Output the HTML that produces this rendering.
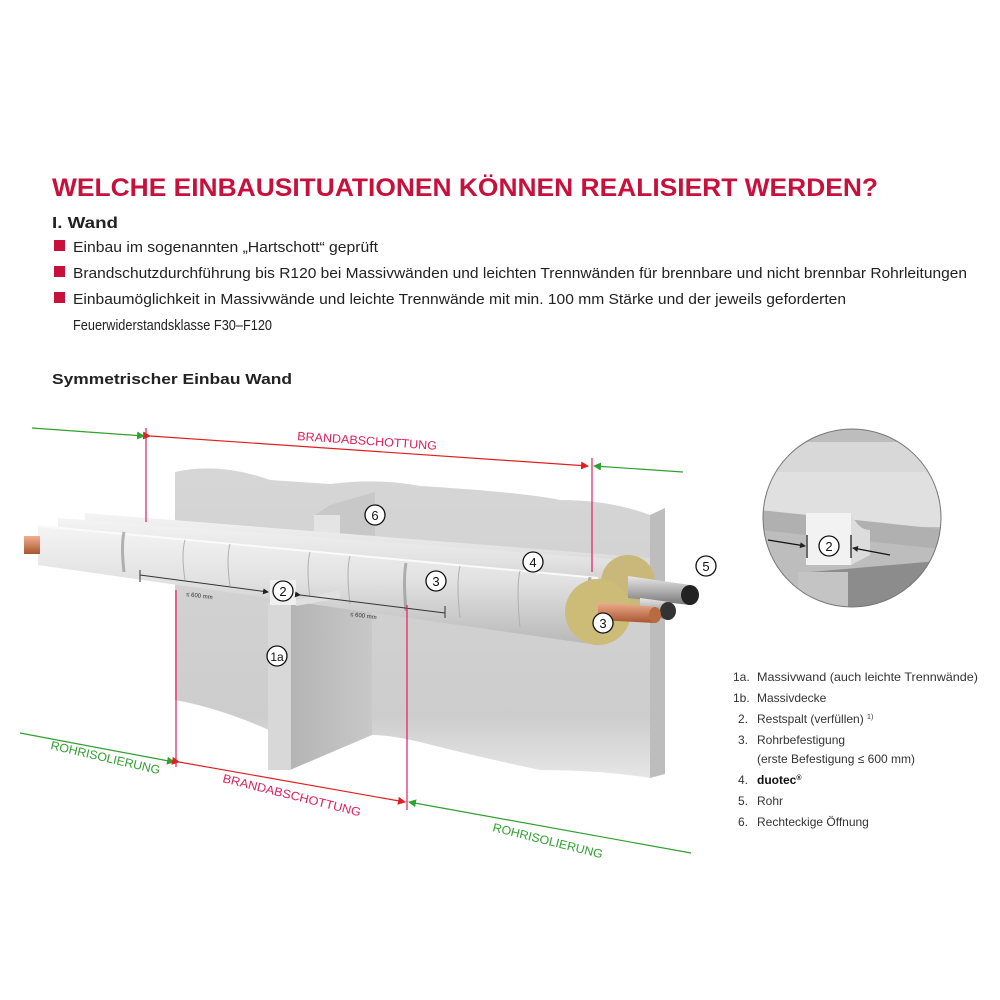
<!DOCTYPE html>
<html><head><meta charset="utf-8"><style>
html,body{margin:0;padding:0;background:#fff}
svg{display:block}
text{font-family:"Liberation Sans",sans-serif}
</style></head><body>
<svg width="1000" height="1000" viewBox="0 0 1000 1000" xmlns="http://www.w3.org/2000/svg">
<defs>
<linearGradient id="pipe" x1="0" y1="0" x2="0" y2="1">
<stop offset="0" stop-color="#f4f4f4"/><stop offset="0.45" stop-color="#e2e2e2"/><stop offset="1" stop-color="#b8b8b8"/>
</linearGradient>
<linearGradient id="wall" x1="0" y1="0" x2="0" y2="1">
<stop offset="0" stop-color="#d6d6d6"/><stop offset="0.8" stop-color="#cdcdcd"/><stop offset="1" stop-color="#e6e6e6"/>
</linearGradient>
<linearGradient id="side" x1="0" y1="0" x2="1" y2="0">
<stop offset="0" stop-color="#b4b4b4"/><stop offset="1" stop-color="#c8c8c8"/>
</linearGradient>
<linearGradient id="steel" x1="0" y1="0" x2="0" y2="1">
<stop offset="0" stop-color="#e8e8e8"/><stop offset="1" stop-color="#777"/>
</linearGradient>
<linearGradient id="copper" x1="0" y1="0" x2="0" y2="1">
<stop offset="0" stop-color="#f0b090"/><stop offset="1" stop-color="#a85530"/>
</linearGradient>
<marker id="ar" markerWidth="8" markerHeight="8" refX="7" refY="4" orient="auto" markerUnits="userSpaceOnUse"><path d="M0,0 L8,4 L0,8z" fill="#e02020"/></marker>
<marker id="ag" markerWidth="8" markerHeight="8" refX="7" refY="4" orient="auto" markerUnits="userSpaceOnUse"><path d="M0,0 L8,4 L0,8z" fill="#30a030"/></marker>
<marker id="ak" markerWidth="6" markerHeight="6" refX="5" refY="3" orient="auto" markerUnits="userSpaceOnUse"><path d="M0,0 L6,3 L0,6z" fill="#222"/></marker>
<clipPath id="ic"><circle cx="852" cy="518" r="89"/></clipPath>
</defs>

<text x="52" y="196" font-size="25" font-weight="bold" fill="#c8103c" textLength="826" lengthAdjust="spacingAndGlyphs">WELCHE EINBAUSITUATIONEN KÖNNEN REALISIERT WERDEN?</text>
<text x="52" y="228" font-size="16" font-weight="bold" fill="#222" textLength="66" lengthAdjust="spacingAndGlyphs">I. Wand</text>
<rect x="54" y="240" width="11" height="11" fill="#c8103c"/>
<rect x="54" y="266" width="11" height="11" fill="#c8103c"/>
<rect x="54" y="292" width="11" height="11" fill="#c8103c"/>
<g font-size="15" fill="#222">
<text x="73" y="252" textLength="305" lengthAdjust="spacingAndGlyphs">Einbau im sogenannten „Hartschott“ geprüft</text>
<text x="73" y="278" textLength="894" lengthAdjust="spacingAndGlyphs">Brandschutzdurchführung bis R120 bei Massivwänden und leichten Trennwänden für brennbare und nicht brennbar Rohrleitungen</text>
<text x="73" y="304" textLength="773" lengthAdjust="spacingAndGlyphs">Einbaumöglichkeit in Massivwände und leichte Trennwände mit min. 100 mm Stärke und der jeweils geforderten</text>
<text x="73" y="330" textLength="199" lengthAdjust="spacingAndGlyphs">Feuerwiderstandsklasse F30–F120</text>
</g>
<text x="52" y="384" font-size="15" font-weight="bold" fill="#222" textLength="240" lengthAdjust="spacingAndGlyphs">Symmetrischer Einbau Wand</text>

<!-- wall -->
<path d="M175,472 Q220,462 270,480 L330,484 Q380,478 420,486 Q520,492 560,500 Q610,500 650,515 L650,778 Q600,770 540,770 Q470,755 420,742 Q390,735 372,735 L290,740 Q230,710 175,700 Z" fill="url(#wall)"/>
<path d="M650,515 L665,508 L665,774 L650,778 Z" fill="#bdbdbd"/>
<path d="M315,515 L330,505 L375,492 L375,540 L330,540 Z" fill="#c8c8c8"/>
<rect x="314" y="515" width="26" height="22" fill="#e4e4e4"/>
<!-- perpendicular wall 1a -->
<path d="M290,600 L372,600 L372,735 L290,770 Z" fill="url(#side)"/>
<rect x="268" y="603" width="23" height="167" fill="#d8d8d8"/>

<path d="M85,513 L650,558 L650,598 L85,545 Z" fill="url(#pipe)"/>
<path d="M58,518 L625,560 A27,27 0 0 1 625,614 L58,560 Z" fill="url(#pipe)"/>
<path d="M38,526 L598,578 L598,645 L38,565 Z" fill="url(#pipe)"/>
<path d="M38,526 L598,578" stroke="#fafafa" stroke-width="2"/>
<g stroke="#b0b0b0" stroke-width="1" fill="none">
<path d="M185,540 q-4,14 0,40"/><path d="M230,544 q-4,14 0,42"/><path d="M310,552 q-4,14 0,46"/><path d="M350,556 q-4,14 0,48"/><path d="M460,566 q-4,16 0,52"/><path d="M520,571 q-4,16 0,56"/>
</g>
<g stroke="#888" stroke-width="3" fill="none" opacity="0.6">
<path d="M124,532 q-3,14 0,40"/><path d="M406,563 q-3,16 0,48"/><path d="M590,577 q-3,16 0,52"/>
</g>
<rect x="270" y="580" width="26" height="25" fill="#f0f0f0"/>
<path d="M296,600 L340,590 L340,598 L296,606Z" fill="#e0e0e0"/>
<rect x="24" y="536" width="16" height="18" fill="url(#copper)"/>
<circle cx="628" cy="582" r="27" fill="#c9b87a"/>
<circle cx="598" cy="612" r="33" fill="#cdbb78"/>
<path d="M628,576 L690,585 L690,605 L628,598Z" fill="url(#steel)"/>
<ellipse cx="690" cy="595" rx="9" ry="10" fill="#222"/>
<path d="M640,598 L670,602 L670,620 L640,614Z" fill="url(#steel)"/>
<ellipse cx="668" cy="611" rx="8" ry="9" fill="#333"/>
<path d="M598,602 L655,607 L655,623 L598,620Z" fill="url(#copper)"/>
<ellipse cx="655" cy="615" rx="6" ry="8" fill="#b86a40"/>

<g stroke="#333" stroke-width="1" fill="none">
<line x1="140" y1="575" x2="268" y2="592" marker-end="url(#ak)"/>
<line x1="140" y1="570" x2="140" y2="582"/>
<line x1="300" y1="595" x2="445" y2="613" marker-start="url(#ak)"/>
<line x1="445" y1="606" x2="445" y2="618"/>
</g>
<text x="186" y="596" font-size="6" fill="#333" transform="rotate(7 186 596)">≤ 600 mm</text>
<text x="350" y="616" font-size="6" fill="#333" transform="rotate(7 350 616)">≤ 600 mm</text>

<g stroke-width="1.2" fill="none">
<line x1="146" y1="428" x2="146" y2="522" stroke="#e0205a"/>
<line x1="592" y1="458" x2="592" y2="572" stroke="#e0205a"/>
<line x1="176" y1="590" x2="176" y2="767" stroke="#e0205a"/>
<line x1="407" y1="605" x2="407" y2="810" stroke="#e0205a"/>
<line x1="150" y1="436" x2="588" y2="466" stroke="#e02020" marker-start="url(#ar)" marker-end="url(#ar)"/>
<line x1="32" y1="428" x2="144" y2="436" stroke="#30a030" marker-end="url(#ag)"/>
<line x1="683" y1="472" x2="594" y2="466" stroke="#30a030" marker-end="url(#ag)"/>
<line x1="20" y1="733" x2="174" y2="762" stroke="#30a030" marker-end="url(#ag)"/>
<line x1="179" y1="762" x2="405" y2="802" stroke="#e02020" marker-start="url(#ar)" marker-end="url(#ar)"/>
<line x1="691" y1="853" x2="409" y2="802" stroke="#30a030" marker-end="url(#ag)"/>
</g>
<text x="297" y="440" font-size="12" fill="#e0205a" transform="rotate(4 297 440)" textLength="140" lengthAdjust="spacingAndGlyphs">BRANDABSCHOTTUNG</text>
<text x="50" y="749" font-size="12" fill="#30a030" transform="rotate(13 50 749)" textLength="112" lengthAdjust="spacingAndGlyphs">ROHRISOLIERUNG</text>
<text x="222" y="782" font-size="12" fill="#e0205a" transform="rotate(14 222 782)" textLength="142" lengthAdjust="spacingAndGlyphs">BRANDABSCHOTTUNG</text>
<text x="492" y="831" font-size="12" fill="#30a030" transform="rotate(14 492 831)" textLength="113" lengthAdjust="spacingAndGlyphs">ROHRISOLIERUNG</text>

<g font-size="13" text-anchor="middle" fill="#111">
<g stroke="#111" stroke-width="1.3" fill="#fff">
<circle cx="375" cy="515" r="10"/><circle cx="533" cy="562" r="10"/><circle cx="706" cy="566" r="10"/>
<circle cx="436" cy="581" r="10"/><circle cx="603" cy="623" r="10"/><circle cx="283" cy="591" r="10"/><circle cx="277" cy="656" r="10"/>
</g>
<text x="375" y="520">6</text><text x="533" y="567">4</text><text x="706" y="571">5</text>
<text x="436" y="586">3</text><text x="603" y="628">3</text><text x="283" y="596">2</text><text x="277" y="661" font-size="12">1a</text>
</g>

<g clip-path="url(#ic)">
<rect x="760" y="425" width="190" height="190" fill="#bdbdbd"/>
<rect x="760" y="442" width="190" height="40" fill="#d8d8d8"/>
<rect x="760" y="472" width="190" height="55" fill="#e0e0e0"/>
<path d="M760,510 L950,530 L950,550 L760,530Z" fill="#b0b0b0"/>
<path d="M810,572 L950,560 L950,615 L810,615Z" fill="#8c8c8c"/>
<rect x="798" y="572" width="50" height="50" fill="#c4c4c4"/>
<rect x="806" y="513" width="45" height="52" fill="#f2f2f2"/>
<path d="M851,513 Q858,530 870,530 L870,555 L851,565Z" fill="#dcdcdc"/>
</g>
<circle cx="852" cy="518" r="89" fill="none" stroke="#777" stroke-width="1"/>
<g stroke="#111" stroke-width="1.2">
<line x1="807" y1="535" x2="807" y2="558"/><line x1="851" y1="535" x2="851" y2="558"/>
<line x1="768" y1="540" x2="805" y2="546" marker-end="url(#ak)"/>
<line x1="890" y1="555" x2="853" y2="548" marker-end="url(#ak)"/>
</g>
<circle cx="829" cy="546" r="10" fill="#fff" stroke="#111" stroke-width="1.3"/>
<text x="829" y="551" font-size="13" text-anchor="middle" fill="#111">2</text>

<g font-size="12" fill="#333">
<text x="733" y="681">1a.</text><text x="757" y="681" textLength="221" lengthAdjust="spacingAndGlyphs">Massivwand (auch leichte Trennwände)</text>
<text x="733" y="702">1b.</text><text x="757" y="702">Massivdecke</text>
<text x="738" y="723">2.</text><text x="757" y="723">Restspalt (verfüllen) <tspan font-size="7" dy="-4">1)</tspan></text>
<text x="738" y="744">3.</text><text x="757" y="744">Rohrbefestigung</text>
<text x="757" y="763">(erste Befestigung ≤ 600 mm)</text>
<text x="738" y="784">4.</text><text x="757" y="784" font-weight="bold" fill="#111">duotec<tspan font-size="7" dy="-4">®</tspan></text>
<text x="738" y="805">5.</text><text x="757" y="805">Rohr</text>
<text x="738" y="826">6.</text><text x="757" y="826">Rechteckige Öffnung</text>
</g>
</svg>
</body></html>
